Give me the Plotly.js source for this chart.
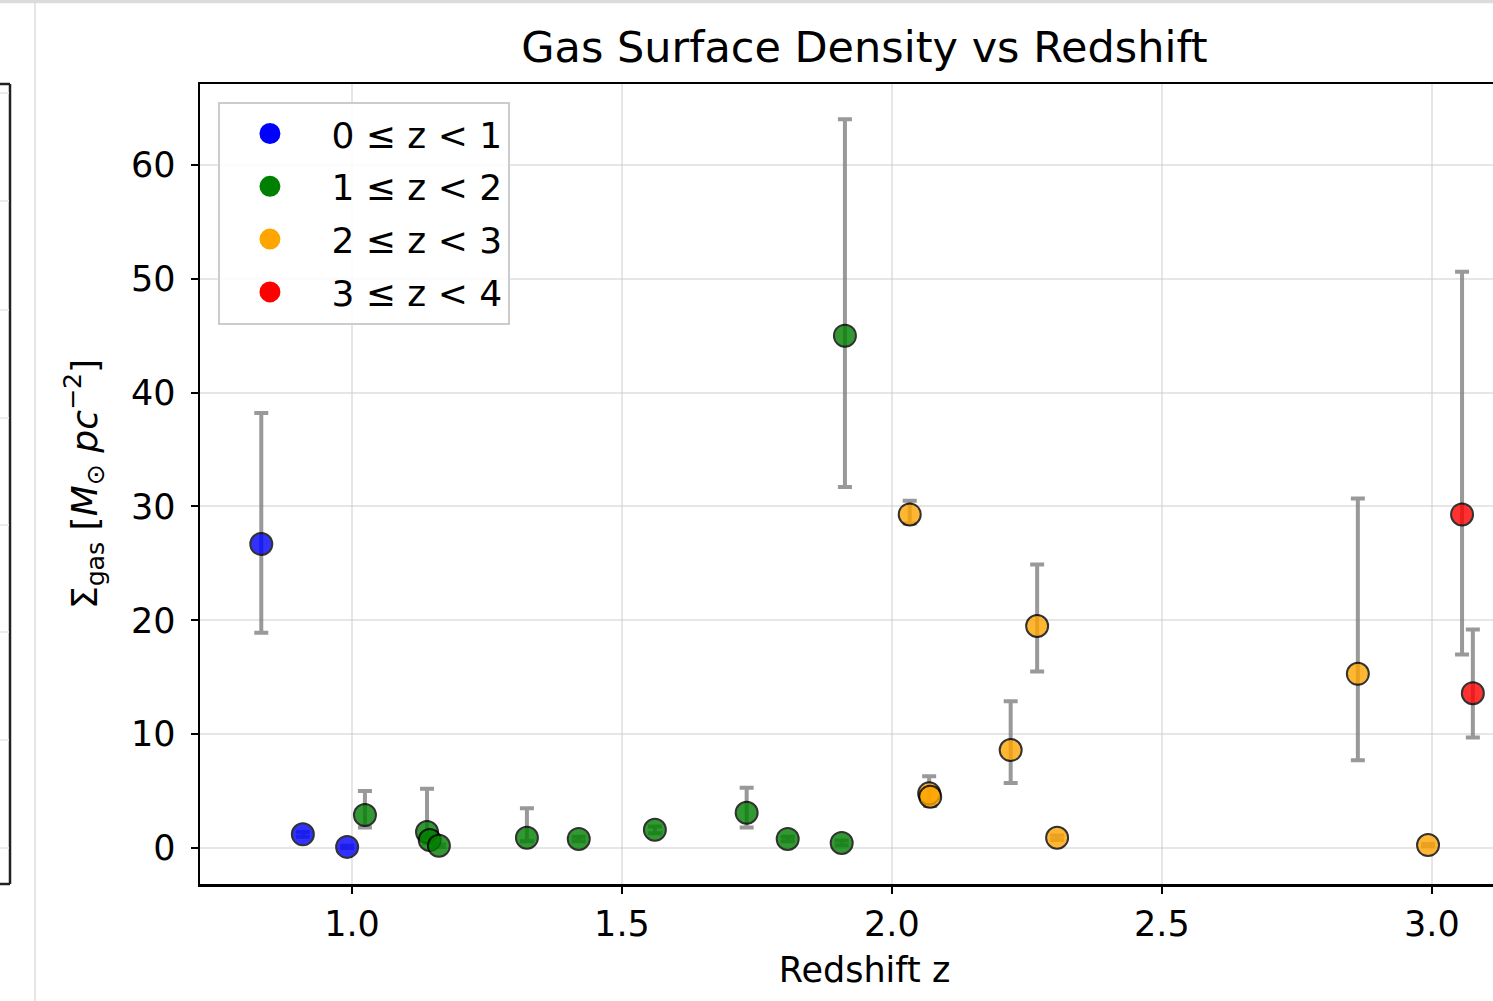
<!DOCTYPE html>
<html>
<head>
<meta charset="utf-8">
<script src="https://cdn.plot.ly/plotly-3.0.1.min.js"></script>
<style>
html,body{margin:0;padding:0;overflow:hidden;background:#fff;}
#chart{width:1560px;height:1001px;}
</style>
</head>
<body>
<div id="chart"></div>
<script>
// ---- data ----
const groupNames = ["0 ≤ z < 1", "1 ≤ z < 2", "2 ≤ z < 3", "3 ≤ z < 4"];
const groupColors = ["#0000ff", "#008000", "#ffa500", "#ff0000"];

const zBlue = [0.832, 0.909, 0.991];
const sBlue = [26.7, 1.2, 0.1];
const ePlusBlue = [11.5, 0.2, 0.1];
const eMinusBlue = [7.8, 0.2, 0.1];

const zGreen = [1.024, 1.139, 1.144, 1.161, 1.324, 1.420, 1.561, 1.731, 1.807, 1.907, 1.913];
const sGreen = [2.9, 1.4, 0.7, 0.2, 0.9, 0.8, 1.6, 3.1, 0.8, 0.45, 45.0];
const ePlusGreen = [2.1, 3.8, 0.3, 0.1, 2.6, 0.2, 0.3, 2.2, 0.2, 0.2, 19.0];
const eMinusGreen = [1.1, 0.5, 0.3, 0.1, 0.3, 0.2, 0.3, 1.3, 0.2, 0.2, 13.3];

const zOrange = [2.033, 2.069, 2.071, 2.220, 2.269, 2.306, 2.863, 2.993];
const sOrange = [29.3, 4.8, 4.5, 8.6, 19.5, 0.9, 15.3, 0.26];
const ePlusOrange = [1.2, 1.5, 0.8, 4.3, 5.4, 0.2, 15.4, 0.1];
const eMinusOrange = [0.8, 0.8, 0.8, 2.9, 4.0, 0.2, 7.6, 0.1];

const zRed = [3.056, 3.076];
const sRed = [29.3, 13.6];
const ePlusRed = [21.3, 5.6];
const eMinusRed = [12.3, 3.9];

const xTicks = [1.0, 1.5, 2.0, 2.5, 3.0];
const xTickText = ["1.0", "1.5", "2.0", "2.5", "3.0"];
const yTicks = [0, 10, 20, 30, 40, 50, 60];

// ---- build traces ----
const groups = [
  {x: zBlue, y: sBlue, ep: ePlusBlue, em: eMinusBlue},
  {x: zGreen, y: sGreen, ep: ePlusGreen, em: eMinusGreen},
  {x: zOrange, y: sOrange, ep: ePlusOrange, em: eMinusOrange},
  {x: zRed, y: sRed, ep: ePlusRed, em: eMinusRed}
];

const traces = [];
groups.forEach((g, i) => {
  traces.push({
    type: "scatter", mode: "markers",
    x: g.x, y: g.y,
    showlegend: false,
    error_y: {type: "data", symmetric: false, array: g.ep, arrayminus: g.em,
              color: "rgba(128,128,128,0.8)", thickness: 4, width: 7},
    marker: {size: 22, color: groupColors[i], opacity: 0.8,
             line: {color: "#000", width: 2}},
    hoverinfo: "x+y"
  });
});
// legend-only entries (plain dots, like the reference legend)
groups.forEach((g, i) => {
  traces.push({
    type: "scatter", mode: "markers",
    x: [null], y: [null],
    name: "\u00a0" + groupNames[i],
    legendgroup: "g" + i,
    showlegend: true,
    marker: {size: 22, color: groupColors[i], line: {width: 5, color: groupColors[i]}}
  });
});

const font = "DejaVu Sans, Liberation Sans, sans-serif";
const base = 35;

const layout = {
  width: 1560, height: 1001,
  margin: {l: 200, r: 31, t: 84, b: 117},
  paper_bgcolor: "#fff", plot_bgcolor: "#fff",
  font: {family: font, size: base, color: "#000"},
  title: {text: "Gas Surface Density vs Redshift", font: {family: font, size: 43, color: "#000"},
          x: 0.5, xref: "paper", xanchor: "center", y: 0.953, yref: "container", yanchor: "middle"},
  xaxis: {
    range: [0.7185, 3.18],
    tickvals: xTicks, ticktext: xTickText,
    ticks: "outside", ticklen: 7, tickwidth: 2, tickcolor: "#000",
    tickfont: {family: font, size: base, color: "#000"},
    ticklabelstandoff: 0,
    showgrid: true, gridcolor: "rgba(200,200,200,0.45)", gridwidth: 2,
    zeroline: false,
    showline: true, linecolor: "#000", linewidth: 2.5, mirror: true,
    title: {text: "Redshift z", font: {family: font, size: base, color: "#000"}, standoff: 15}
  },
  yaxis: {
    range: [-3.16, 67.1],
    tickvals: yTicks,
    ticks: "outside", ticklen: 7, tickwidth: 2, tickcolor: "#000",
    tickfont: {family: font, size: base, color: "#000"},
    ticklabelstandoff: 8,
    showgrid: true, gridcolor: "rgba(200,200,200,0.45)", gridwidth: 2,
    zeroline: false,
    showline: true, linecolor: "#000", linewidth: 2.5, mirror: true,
    title: {text: "Σ<sub>gas</sub> [<i>M</i><sub>⊙</sub> <i>pc</i><sup>−2</sup>]",
            font: {family: font, size: 36, color: "#000"}, standoff: 23}
  },
  legend: {
    x: 0.0135, y: 0.978, xanchor: "left", yanchor: "top",
    bgcolor: "rgba(255,255,255,0.85)", bordercolor: "#cccccc", borderwidth: 2,
    font: {family: font, size: 36, color: "#000"},
    traceorder: "grouped", tracegroupgap: 3,
    itemwidth: 90
  },
  shapes: [
    // fragments of neighbouring page elements
    {type: "line", xref: "paper", yref: "paper", x0: (10 - 200) / 1329, x1: (10 - 200) / 1329, y0: 0, y1: 1,
     line: {color: "#222", width: 2.5}},
    {type: "line", xref: "paper", yref: "paper", x0: -0.16, x1: (10 - 200) / 1329, y0: 1, y1: 1,
     line: {color: "#222", width: 2.5}},
    {type: "line", xref: "paper", yref: "paper", x0: -0.16, x1: (10 - 200) / 1329, y0: 0, y1: 0,
     line: {color: "#222", width: 2.5}},
    {type: "line", xref: "paper", yref: "paper", x0: (35 - 200) / 1329, x1: (35 - 200) / 1329, y0: -0.15, y1: 1.11,
     line: {color: "#dcdcdc", width: 1.5}},
    {type: "line", xref: "paper", yref: "paper", x0: -0.16, x1: 1.05, y0: 1.1035, y1: 1.1035,
     line: {color: "#dcdcdc", width: 4}}
  ].concat([93, 201, 310, 418, 525, 632, 740, 848].map(py => ({
    type: "line", xref: "paper", yref: "paper",
    x0: -0.16, x1: (9 - 200) / 1329,
    y0: (884 - py) / 800, y1: (884 - py) / 800,
    line: {color: "#ececec", width: 2}
  })))
};

Plotly.newPlot("chart", traces, layout, {displayModeBar: false, staticPlot: true});
</script>
</body>
</html>
